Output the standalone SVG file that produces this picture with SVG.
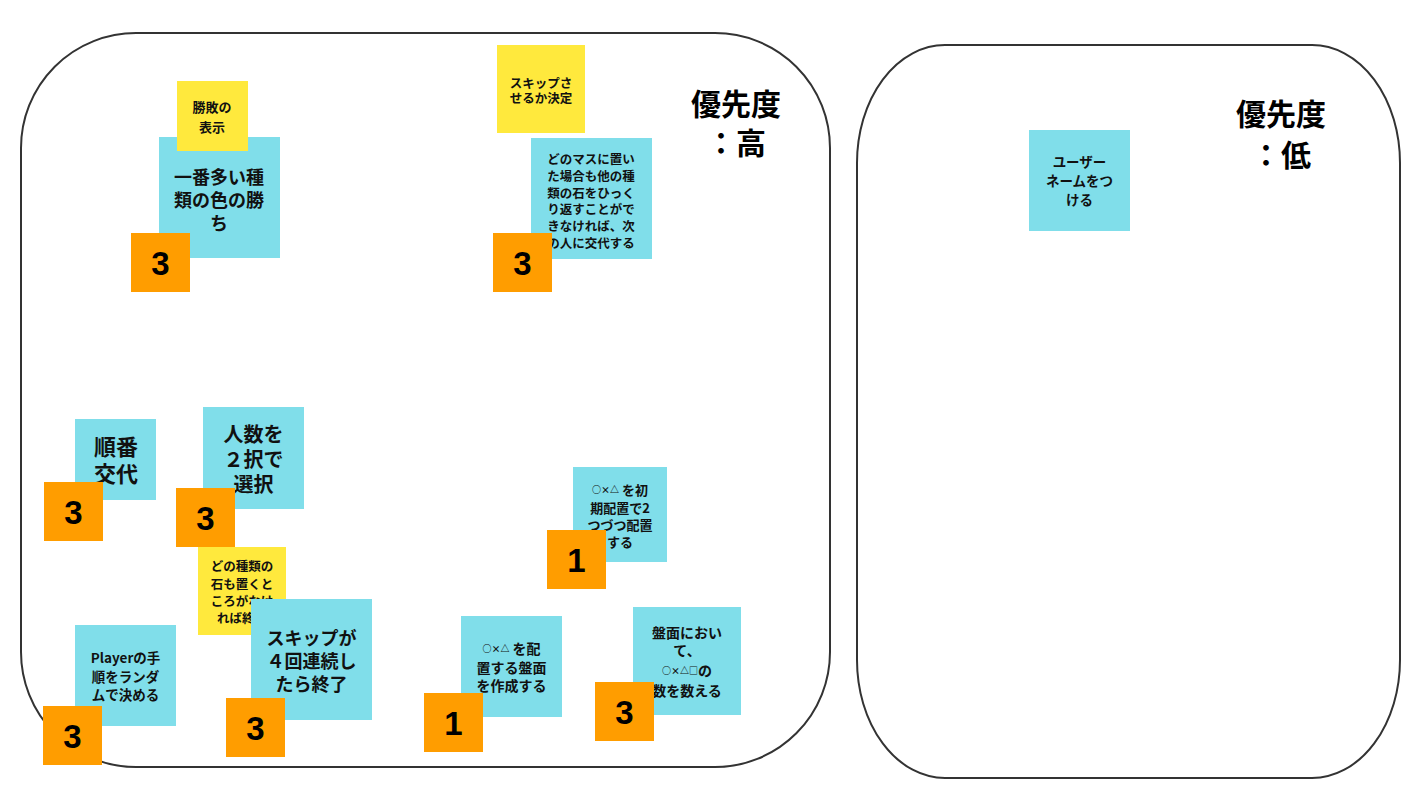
<svg xmlns="http://www.w3.org/2000/svg" width="1422" height="800" viewBox="0 0 1422 800">
<style>
.frame{fill:#fff;stroke:#333;stroke-width:2}
.c{fill:#80deea}
.y{fill:#ffe93d}
.o{fill:#ff9d00}
text{font-family:"Noto Sans CJK JP","Noto Sans",sans-serif;font-weight:bold;fill:#111;text-anchor:middle;dominant-baseline:central}
.n{font-family:"Liberation Sans",Arial,sans-serif;font-size:33px;fill:#000}
.h{font-size:30px;fill:#000}
.s{font-size:9px}
</style>
<g id="frame-high"><rect class="frame" x="21" y="33" width="809" height="734" rx="115" ry="115"/><text class="h" x="736" y="102">優先度</text><text class="h" x="736" y="141">：高</text></g>
<g id="frame-low"><rect class="frame" x="857" y="45" width="543" height="733" rx="88" ry="118"/><text class="h" x="1281" y="112">優先度</text><text class="h" x="1281" y="153">：低</text></g>
<g id="connectors"/>
<g id="n-win">
<rect class="c" x="159" y="137" width="121" height="121"/>
<text font-size="18"><tspan x="219" y="176">一番多い種</tspan><tspan x="219" y="199">類の色の勝</tspan><tspan x="219" y="222">ち</tspan></text>
<rect class="y" x="177" y="81" width="71" height="70"/>
<text font-size="13"><tspan x="212" y="106">勝敗の</tspan><tspan x="212" y="126">表示</tspan></text>
<rect class="o" x="131" y="233" width="59" height="59"/><text class="n" x="160.5" y="263">3</text>
</g>
<g id="n-skip">
<rect class="y" x="497" y="45" width="88" height="88"/>
<text font-size="12.5"><tspan x="541" y="82">スキップさ</tspan><tspan x="541" y="97">せるか決定</tspan></text>
<rect class="c" x="531" y="138" width="121" height="121"/>
<text font-size="12.5"><tspan x="591" y="158">どのマスに置い</tspan><tspan x="591" y="175">た場合も他の種</tspan><tspan x="591" y="192">類の石をひっく</tspan><tspan x="591" y="208">り返すことがで</tspan><tspan x="591" y="225">きなければ、次</tspan><tspan x="591" y="242">の人に交代する</tspan></text>
<rect class="o" x="493" y="233" width="59" height="59"/><text class="n" x="522.5" y="263">3</text>
</g>
<g id="n-turn">
<rect class="c" x="75" y="419" width="81" height="81"/>
<text font-size="22"><tspan x="116" y="445">順番</tspan><tspan x="116" y="472">交代</tspan></text>
<rect class="o" x="44" y="482" width="59" height="59"/><text class="n" x="73.5" y="512">3</text>
</g>
<g id="n-players">
<rect class="c" x="203" y="407" width="101" height="102"/>
<text font-size="20"><tspan x="253.5" y="433">人数を</tspan><tspan x="253.5" y="458">２択で</tspan><tspan x="253.5" y="483">選択</tspan></text>
<rect class="o" x="176" y="488" width="59" height="59"/><text class="n" x="205.5" y="518">3</text>
</g>
<g id="n-end">
<rect class="y" x="198" y="547" width="88" height="88"/>
<text font-size="12.5"><tspan x="242" y="565">どの種類の</tspan><tspan x="242" y="583">石も置くと</tspan><tspan x="242" y="600">ころがなけ</tspan><tspan x="242" y="617">れば終了</tspan></text>
</g>
<g id="n-init">
<rect class="c" x="573" y="467" width="94" height="95"/>
<text font-size="13"><tspan x="620" y="489"><tspan class="s">○×△</tspan> を初</tspan><tspan x="620" y="507">期配置で2</tspan><tspan x="620" y="524">つづつ配置</tspan><tspan x="620" y="541">する</tspan></text>
<rect class="o" x="547" y="530" width="59" height="59"/><text class="n" x="576.5" y="560">1</text>
</g>
<g id="n-random">
<rect class="c" x="75" y="625" width="101" height="101"/>
<text font-size="13.5"><tspan x="125.5" y="657">Playerの手</tspan><tspan x="125.5" y="676">順をランダ</tspan><tspan x="125.5" y="694">ムで決める</tspan></text>
<rect class="o" x="43" y="706" width="59" height="59"/><text class="n" x="72.5" y="736">3</text>
</g>
<g id="n-skip4">
<rect class="c" x="251" y="599" width="121" height="121"/>
<text font-size="18"><tspan x="311.5" y="637">スキップが</tspan><tspan x="311.5" y="660">４回連続し</tspan><tspan x="311.5" y="683">たら終了</tspan></text>
<rect class="o" x="226" y="698" width="59" height="59"/><text class="n" x="255.5" y="728">3</text>
</g>
<g id="n-board">
<rect class="c" x="461" y="616" width="101" height="101"/>
<text font-size="14"><tspan x="511.5" y="648"><tspan class="s">○×△</tspan> を配</tspan><tspan x="511.5" y="667">置する盤面</tspan><tspan x="511.5" y="685">を作成する</tspan></text>
<rect class="o" x="424" y="693" width="59" height="59"/><text class="n" x="453.5" y="723">1</text>
</g>
<g id="n-count">
<rect class="c" x="633" y="607" width="108" height="108"/>
<text font-size="14"><tspan x="687" y="632">盤面におい</tspan><tspan x="687" y="650">て、</tspan><tspan x="687" y="670"><tspan class="s">○×△□</tspan>の</tspan><tspan x="687" y="690">数を数える</tspan></text>
<rect class="o" x="595" y="682" width="59" height="59"/><text class="n" x="624.5" y="712">3</text>
</g>
<g id="n-username">
<rect class="c" x="1029" y="130" width="101" height="101"/>
<text font-size="13.5"><tspan x="1079.5" y="161">ユーザー</tspan><tspan x="1079.5" y="180">ネームをつ</tspan><tspan x="1079.5" y="199">ける</tspan></text>
</g>
</svg>
